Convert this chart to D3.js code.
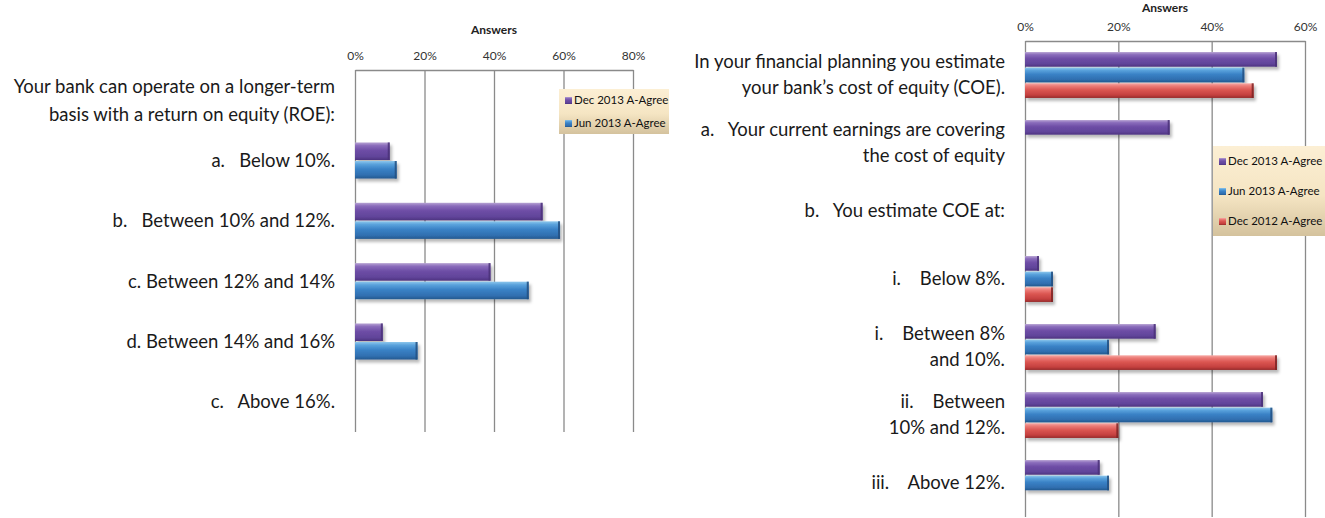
<!DOCTYPE html>
<html>
<head>
<meta charset="utf-8">
<script src="https://cdn.jsdelivr.net/npm/d3@7"></script>
<style>
  html, body { margin: 0; padding: 0; background: #fff; }
  svg { display: block; }
  .cat { font-family: "Lato", "Open Sans", sans-serif; font-size: 18.5px; fill: #1a1a1a; white-space: pre; }
  .tick text { font-family: "Lato", "Open Sans", sans-serif; font-size: 12px; fill: #333; }
  .title { font-family: "Lato", "Open Sans", sans-serif; font-size: 12px; font-weight: bold; fill: #222; }
  .leg { font-family: "Lato", "Open Sans", sans-serif; font-size: 11.5px; fill: #111; }
</style>
</head>
<body>
<svg id="chart" width="1325" height="518"></svg>
<script>
// ROE question (left panel)
const roeCategories = [
  "Your bank can operate on a longer-term\nbasis with a return on equity (ROE):",
  "a.   Below 10%.",
  "b.   Between 10% and 12%.",
  "c. Between 12% and 14%",
  "d. Between 14% and 16%",
  "c.   Above 16%."
];
const roeSeries = ["Dec 2013 A-Agree", "Jun 2013 A-Agree"];
const roeDec2013 = [null, 10, 54, 39, 8, null];
const roeJun2013 = [null, 12, 59, 50, 18, null];
const roeTicks = [0, 20, 40, 60, 80];

// Cost of equity question (right panel)
const coeCategories = [
  "In your financial planning you estimate\nyour bank\u2019s cost of equity (COE).",
  "a.   Your current earnings are covering\nthe cost of equity",
  "b.   You estimate COE at:",
  "i.    Below 8%.",
  "i.    Between 8%\nand 10%.",
  "ii.    Between\n10% and 12%.",
  "iii.    Above 12%."
];
const coeSeries = ["Dec 2013 A-Agree", "Jun 2013 A-Agree", "Dec 2012 A-Agree"];
const coeDec2013 = [54, 31, null, 3, 28, 51, 16];
const coeJun2013 = [47, null, null, 6, 18, 53, 18];
const coeDec2012 = [49, null, null, 6, 54, 20, null];
const coeTicks = [0, 20, 40, 60];

const svg = d3.select("#chart");
const defs = svg.append("defs");

// cylinder-like shading for each series colour
const palettes = {
  purple: ["#b7a3d3", "#8a6cbb", "#6e4ea6", "#61449a", "#4d3380"],
  blue:   ["#8cc6ec", "#5aa2dc", "#3a82c6", "#306fb0", "#25598f"],
  red:    ["#f7aaa6", "#ec7c77", "#db5652", "#c4403e", "#962c2c"]
};
const caps = { purple: "#4a3178", blue: "#234f80", red: "#7d2424" };
Object.entries(palettes).forEach(([key, c]) => {
  const g = defs.append("linearGradient").attr("id", "grad-" + key)
    .attr("x1", 0).attr("y1", 0).attr("x2", 0).attr("y2", 1);
  [[0, c[0]], [0.18, c[1]], [0.45, c[2]], [0.8, c[3]], [1, c[4]]].forEach(([o, col]) =>
    g.append("stop").attr("offset", o).attr("stop-color", col));
});
const legGrad = defs.append("linearGradient").attr("id", "legend-bg")
  .attr("x1", 0).attr("y1", 0).attr("x2", 0).attr("y2", 1);
[[0, "#fcefd4"], [0.55, "#f5e5c3"], [1, "#d4c29d"]].forEach(([o, col]) =>
  legGrad.append("stop").attr("offset", o).attr("stop-color", col));

const shadow = defs.append("filter").attr("id", "bar-shadow")
  .attr("x", "-5%").attr("y", "-30%").attr("width", "115%").attr("height", "180%");
shadow.append("feDropShadow").attr("dx", 2).attr("dy", 3).attr("stdDeviation", 1.6)
  .attr("flood-color", "#000").attr("flood-opacity", 0.28);

function drawPanel(cfg) {
  const { categories, series, values, colors, ticks, x0, x1, y0, y1, maxVal,
          labelX, lineGap, legend, barPad, titleY } = cfg;
  const g = svg.append("g");

  const x = d3.scaleLinear().domain([0, maxVal]).range([x0, x1]);
  const y = d3.scaleBand().domain(d3.range(categories.length)).range([y0, y1])
    .paddingInner(barPad).paddingOuter(barPad / 2);
  const yInner = d3.scaleBand().domain(d3.range(series.length)).range([0, y.bandwidth()]);

  // gridlines and top axis
  const axis = d3.axisTop(x).tickValues(ticks).tickFormat(d => d + "%")
    .tickSizeInner(-(y1 - y0)).tickSizeOuter(0).tickPadding(10);
  const ax = g.append("g").attr("transform", `translate(0,${y0})`).call(axis);
  ax.select(".domain").attr("stroke", "#8a8a8a").attr("stroke-width", 1.3);
  ax.selectAll(".tick line").attr("stroke", "#8a8a8a").attr("stroke-width", 1.3);

  g.append("text").attr("class", "title")
    .attr("x", (x0 + x1) / 2).attr("y", titleY).attr("dy", "0.35em")
    .attr("text-anchor", "middle").text("Answers");

  // bars
  const bars = [];
  categories.forEach((c, i) => {
    series.forEach((s, j) => {
      const v = values[j][i];
      if (v != null) bars.push({ i, j, v });
    });
  });
  const bg = g.append("g").attr("filter", "url(#bar-shadow)");
  const b = bg.selectAll("g.bar").data(bars).join("g").attr("class", "bar")
    .attr("transform", d => `translate(0,${y(d.i) + yInner(d.j)})`);
  b.append("rect")
    .attr("x", x(0)).attr("y", 0.5)
    .attr("width", d => x(d.v) - x(0)).attr("height", yInner.bandwidth() - 1)
    .attr("fill", d => `url(#grad-${colors[d.j]})`);
  b.append("rect")
    .attr("x", d => x(d.v) - 2).attr("y", 0.5)
    .attr("width", 2).attr("height", yInner.bandwidth() - 1)
    .attr("fill", d => caps[colors[d.j]]).attr("opacity", 0.85);

  // category labels
  categories.forEach((c, i) => {
    const lines = c.split("\n");
    const cy = y(i) + y.bandwidth() / 2;
    const t = g.append("text").attr("class", "cat").attr("text-anchor", "end");
    lines.forEach((ln, k) => {
      t.append("tspan").attr("x", labelX)
        .attr("y", cy + (k - (lines.length - 1) / 2) * lineGap)
        .attr("dy", "0.35em").text(ln);
    });
  });

  // legend
  const lg = g.append("g").attr("transform", `translate(${legend.x},${legend.y})`);
  lg.append("rect").attr("width", legend.w).attr("height", legend.h)
    .attr("fill", "url(#legend-bg)");
  series.forEach((s, j) => {
    const ly = legend.first + j * legend.step;
    lg.append("rect").attr("x", 6).attr("y", ly - 3).attr("width", 7).attr("height", 7)
      .attr("fill", `url(#grad-${colors[j]})`);
    lg.append("text").attr("class", "leg").attr("x", 15).attr("y", ly)
      .attr("dy", "0.35em").text(s);
  });
}

drawPanel({
  categories: roeCategories,
  series: roeSeries,
  values: [roeDec2013, roeJun2013],
  colors: ["purple", "blue"],
  ticks: roeTicks,
  maxVal: 80,
  x0: 355, x1: 633, y0: 70, y1: 432,
  barPad: 0.385,
  labelX: 335, lineGap: 28, titleY: 30,
  legend: { x: 559, y: 89, w: 110, h: 45, first: 11, step: 23 }
});

drawPanel({
  categories: coeCategories,
  series: coeSeries,
  values: [coeDec2013, coeJun2013, coeDec2012],
  colors: ["purple", "blue", "red"],
  ticks: coeTicks,
  maxVal: 60,
  x0: 1025, x1: 1305, y0: 41, y1: 517,
  barPad: 0.31,
  labelX: 1005, lineGap: 26, titleY: 8,
  legend: { x: 1213, y: 146, w: 112, h: 90, first: 15, step: 30 }
});
</script>
</body>
</html>
